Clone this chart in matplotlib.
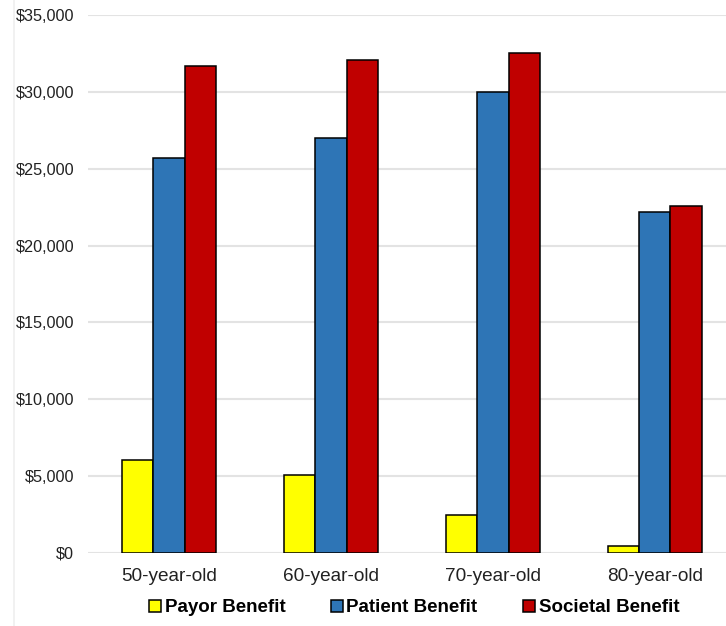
import matplotlib
matplotlib.use("Agg")
import matplotlib.pyplot as plt
from matplotlib.lines import Line2D
from matplotlib.ticker import FuncFormatter
import numpy as np

plt.rcParams["font.family"] = ["Liberation Sans", "DejaVu Sans"]

# data
age_groups = ["50-year-old", "60-year-old", "70-year-old", "80-year-old"]
payor_benefit = [6050, 5070, 2450, 450]
patient_benefit = [25700, 27000, 30000, 22200]
societal_benefit = [31700, 32050, 32500, 22600]

series_names = ["Payor Benefit", "Patient Benefit", "Societal Benefit"]
series_colors = ["#ffff00", "#2e75b6", "#c00000"]

fig = plt.figure(figsize=(7.26, 6.26), dpi=100)
ax = fig.add_axes([88 / 726, 1 - 553 / 626, 1 - 88 / 726, (553 - 15) / 626])

x = np.arange(len(age_groups))
width = 0.194
all_series = [payor_benefit, patient_benefit, societal_benefit]
for i, (vals, name, col) in enumerate(zip(all_series, series_names, series_colors)):
    ax.bar(x + (i - 1) * width, vals, width, color=col, edgecolor="black",
           linewidth=1.1, label=name, zorder=3)

ax.set_xlim(-0.5, 3.44)
ax.set_ylim(0, 35000)
ax.set_yticks(np.arange(0, 35001, 5000))
ax.yaxis.set_major_formatter(FuncFormatter(lambda v, p: f"${v:,.0f}"))
ax.set_xticks(x)
ax.set_xticklabels(age_groups, fontsize=13.7)
ax.tick_params(axis="y", labelsize=11.7, length=0, pad=10, colors="#222222")
ax.tick_params(axis="x", length=0, pad=11, colors="#222222")
ax.grid(axis="y", color="#e3e3e3", linewidth=1.5, zorder=0)
for s in ax.spines.values():
    s.set_visible(False)

# faint chart frame line on the left
fig.add_artist(Line2D([14 / 726, 14 / 726], [0, 1], color="#efefef", linewidth=1.2))

fig.legend(loc="center", bbox_to_anchor=(414 / 726, 1 - 608 / 626), ncol=3,
           frameon=False, prop={"weight": "bold", "size": 13.5},
           handlelength=0.65, handleheight=0.65, handletextpad=0.2,
           columnspacing=2.4, borderaxespad=0)

fig.savefig("out.png", dpi=100)
